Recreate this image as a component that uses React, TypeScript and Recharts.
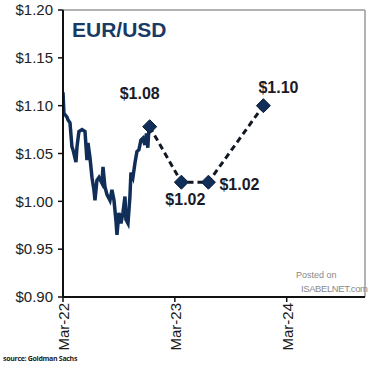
import React from "react"
import { LineChart, Line, XAxis, YAxis, ReferenceLine, LabelList } from "recharts"

// months since Mar-22
const histMonths = [
  0, 0.1, 0.43, 0.54, 0.75, 0.96, 1.07, 1.39, 1.5, 1.71, 2.04, 2.36, 2.57, 2.68, 2.89,
  3.11, 3.32, 3.43, 3.64, 3.86, 4.18, 4.29, 4.5, 4.72, 5.04, 5.25, 5.47, 5.68, 5.79,
  6.0, 6.22, 6.43, 6.65, 6.75, 6.97, 7.18, 7.29, 7.5, 7.72, 7.93, 8.15, 8.36, 8.57,
  8.79, 8.95, 9.1, 9.22,
]
const histRates = [
  1.114, 1.092, 1.088, 1.085, 1.082, 1.057, 1.054, 1.041, 1.057, 1.073, 1.075, 1.073,
  1.043, 1.061, 1.046, 1.025, 1.012, 1.001, 1.022, 1.025, 1.019, 1.036, 1.015, 1.007,
  1.001, 1.012, 1.001, 0.98, 0.965, 0.988, 0.977, 0.988, 1.005, 0.981, 0.977, 1.005,
  1.03, 1.025, 1.04, 1.052, 1.054, 1.064, 1.066, 1.059, 1.071, 1.056, 1.077,
]

const fcMonths = [9.3, 12.7, 15.6, 21.5]
const fcRates = [1.078, 1.02, 1.02, 1.1]

const xTicks = [0, 12, 24]
const xTickLabels = ["Mar-22", "Mar-23", "Mar-24"]
const yTicks = [0.9, 0.95, 1.0, 1.05, 1.1, 1.15, 1.2]

const history = histMonths.map((m, i) => ({ m, rate: histRates[i] }))
const forecast = fcMonths.map((m, i) => ({ m, rate: fcRates[i] }))

const NAVY = "#112e58"
const FONT = "'Liberation Sans', Arial, sans-serif"

const Diamond = (props: any) => {
  const { cx, cy } = props
  if (cx == null || cy == null) return null
  const r = 7
  return (
    <path
      d={`M${cx},${cy - r} L${cx + r},${cy} L${cx},${cy + r} L${cx - r},${cy} Z`}
      fill={NAVY}
      stroke="#0a1c38"
      strokeWidth={1}
    />
  )
}

// label placement per forecast point: [dx, dy, anchor]
const labelPos: [number, number, string][] = [
  [-10, -28, "middle"],
  [4, 23, "middle"],
  [11, 8, "start"],
  [15, -13, "middle"],
]

const PointLabel = (props: any) => {
  const { x, y, value, index } = props
  const [dx, dy, anchor] = labelPos[index] || [0, -10, "middle"]
  return (
    <text
      x={x + dx}
      y={y + dy}
      textAnchor={anchor}
      fontFamily={FONT}
      fontSize={16}
      fontWeight="bold"
      fill="#1b1b28"
    >
      ${Number(value).toFixed(2)}
    </text>
  )
}

const XTick = (props: any) => {
  const { x, y, index } = props
  return (
    <text
      transform={`translate(${x + 6},${y}) rotate(-90)`}
      textAnchor="end"
      fontFamily={FONT}
      fontSize={15}
      fill="#1a1a1a"
    >
      {xTickLabels[index]}
    </text>
  )
}

export default function App() {
  return (
    <div style={{ position: "absolute", left: 0, top: 0, width: 370, height: 367, background: "#fff", overflow: "hidden" }}>
      <LineChart
        width={370}
        height={367}
        margin={{ top: 10, right: 5, bottom: 0, left: 0 }}
        style={{ fontFamily: FONT }}
      >
        <XAxis
          dataKey="m"
          type="number"
          domain={[0, 32.4]}
          ticks={xTicks}
          tick={<XTick />}
          tickSize={5}
          tickMargin={1}
          height={70}
          axisLine={{ stroke: "#111", strokeWidth: 2 }}
          tickLine={{ stroke: "#111", strokeWidth: 1.5 }}
          allowDataOverflow
        />
        <YAxis
          type="number"
          domain={[0.9, 1.2]}
          ticks={yTicks}
          width={63}
          tickSize={5}
          tickMargin={5}
          tickFormatter={(v: number) => `$${v.toFixed(2)}`}
          tick={{ fill: "#222", fontSize: 15, fontFamily: FONT }}
          axisLine={{ stroke: "#111", strokeWidth: 2 }}
          tickLine={{ stroke: "#111", strokeWidth: 1.5 }}
        />
        <ReferenceLine y={1.2} stroke="#9a9a9a" strokeWidth={1.5} />
        <ReferenceLine x={32.4} stroke="#9a9a9a" strokeWidth={1.5} />
        <Line
          data={history}
          dataKey="rate"
          type="linear"
          stroke={NAVY}
          strokeWidth={3.5}
          dot={false}
          isAnimationActive={false}
        />
        <Line
          data={forecast}
          dataKey="rate"
          type="linear"
          stroke="#111822"
          strokeWidth={3}
          strokeDasharray="6 4"
          dot={<Diamond />}
          activeDot={false}
          isAnimationActive={false}
        >
          <LabelList dataKey="rate" content={<PointLabel />} />
        </Line>
      </LineChart>
      <div
        style={{
          position: "absolute", left: 72, top: 19, fontFamily: FONT, fontSize: 21,
          fontWeight: "bold", color: "#1a3a66", lineHeight: 1,
        }}
      >
        EUR/USD
      </div>
      <div style={{ position: "absolute", left: 296, top: 271, fontFamily: FONT, fontSize: 9, color: "#888", lineHeight: 1 }}>
        Posted on
      </div>
      <div
        style={{
          position: "absolute", left: 301, top: 284, fontFamily: FONT, fontSize: 9.5,
          color: "#8a8a8a", lineHeight: 1, letterSpacing: -0.4, whiteSpace: "nowrap",
        }}
      >
        ISABELNET.com
      </div>
      <div
        style={{
          position: "absolute", left: 3, top: 355, fontFamily: "'Open Sans', sans-serif", fontSize: 7,
          fontWeight: "bold", color: "#222", lineHeight: 1, letterSpacing: -0.3, whiteSpace: "nowrap",
        }}
      >
        source: Goldman Sachs
      </div>
    </div>
  )
}
